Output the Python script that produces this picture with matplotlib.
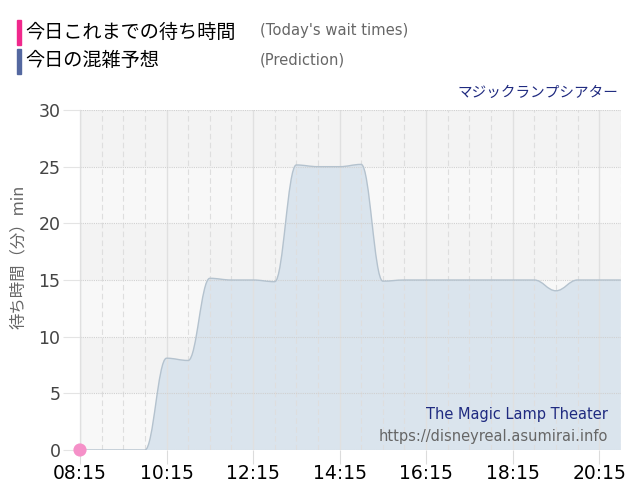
import matplotlib
matplotlib.use('Agg')
import matplotlib.pyplot as plt
from matplotlib.path import Path
from matplotlib.patches import PathPatch, Rectangle

plt.rcParams['font.family'] = ['DejaVu Sans', 'Noto Sans CJK JP']
jp = ['Noto Sans CJK JP', 'DejaVu Sans']

# prediction, every 30 min from 08:15 to 20:45
times = [8.25 + 0.5 * i for i in range(26)]
pred = [0, 0, 0, 0, 8.1, 7.9, 15.15, 15, 15, 14.85, 25.15, 25, 25, 25.2,
        14.9, 15, 15, 15, 15, 15, 15, 15, 14.05, 15, 15, 15]
# today's actual wait times so far
actual_t = [8.25]
actual_v = [0]
tick_pos = [8.25, 10.25, 12.25, 14.25, 16.25, 18.25, 20.25]
tick_lab = ['08:15', '10:15', '12:15', '14:15', '16:15', '18:15', '20:15']


def spline_path(xs, ys, smoothing=1.5):
    # highcharts style spline control points
    n = len(xs)
    left = [(xs[i], ys[i]) for i in range(n)]
    right = list(left)
    d = smoothing + 1
    for i in range(1, n - 1):
        lx, ly = xs[i - 1], ys[i - 1]
        px, py = xs[i], ys[i]
        nx, ny = xs[i + 1], ys[i + 1]
        lcx = (smoothing * px + lx) / d
        lcy = (smoothing * py + ly) / d
        rcx = (smoothing * px + nx) / d
        rcy = (smoothing * py + ny) / d
        if rcx != lcx:
            corr = (rcy - lcy) * (rcx - px) / (rcx - lcx) + py - rcy
            lcy += corr
            rcy += corr
        if lcy > max(ly, py):
            lcy = max(ly, py); rcy = 2 * py - lcy
        elif lcy < min(ly, py):
            lcy = min(ly, py); rcy = 2 * py - lcy
        if rcy > max(py, ny):
            rcy = max(py, ny); lcy = 2 * py - rcy
        elif rcy < min(py, ny):
            rcy = min(py, ny); lcy = 2 * py - rcy
        left[i] = (lcx, lcy)
        right[i] = (rcx, rcy)
    verts = [(xs[0], ys[0])]
    codes = [Path.MOVETO]
    for i in range(1, n):
        verts += [right[i - 1], left[i], (xs[i], ys[i])]
        codes += [Path.CURVE4] * 3
    return verts, codes


fig = plt.figure(figsize=(6.4, 5), dpi=100)
ax = fig.add_axes([0.125, 0.1, 0.845, 0.68])
ax.set_facecolor('#f3f3f3')
for lo in [0, 10, 20]:
    ax.axhspan(lo, lo + 5, color='#f8f8f8', zorder=0)

verts, codes = spline_path(times, pred)
fill = PathPatch(Path(verts + [(times[-1], 0), (times[0], 0), (0, 0)],
                      codes + [Path.LINETO, Path.LINETO, Path.CLOSEPOLY]),
                 facecolor='#dae4ed', edgecolor='none', zorder=1)
ax.add_patch(fill)
line = PathPatch(Path(verts, codes), facecolor='none', edgecolor='#b4c2ce', lw=1, zorder=3)
ax.add_patch(line)

ax.scatter(actual_t, actual_v, s=90, color='#f590c8', zorder=5, clip_on=False, edgecolors='none')

ax.set_xlim(8.25, 20.75)
ax.set_ylim(0, 30)
ax.set_xticks(tick_pos)
ax.set_xticklabels(tick_lab)
ax.set_xticks([8.25 + 0.5 * i for i in range(26)], minor=True)
ax.set_yticks([0, 5, 10, 15, 20, 25, 30])

ax.grid(which='minor', axis='x', color='#dedede', ls=(0, (5, 3)), lw=0.8, zorder=2)
ax.grid(which='major', axis='x', color='#e0e0e0', ls='-', lw=1, zorder=2)
ax.grid(which='major', axis='y', color='#d0d0d0', ls=(0, (1, 1)), lw=0.8, zorder=2)
ax.set_axisbelow(False)

ax.tick_params(axis='x', which='major', length=10, color='#dcdcdc', labelsize=13.5,
               labelcolor='black', pad=0)
ax.tick_params(axis='x', which='minor', length=0)
ax.tick_params(axis='y', length=12, color='#e4e4e4', labelsize=12.5, labelcolor='#444', pad=2)

for s in ['top', 'right', 'bottom']:
    ax.spines[s].set_visible(False)
ax.spines['left'].set_color('#a8b0b8')

ax.set_ylabel('待ち時間（分）min', family=jp, fontsize=11.8, color='#666')
ax.yaxis.set_label_coords(-0.098, 0.568)

# legend at top
fig.patches.append(Rectangle((17 / 640, 1 - 45 / 500), 4 / 640, 25 / 500,
                             transform=fig.transFigure, color='#f0288c'))
fig.patches.append(Rectangle((17 / 640, 1 - 74 / 500), 4 / 640, 25 / 500,
                             transform=fig.transFigure, color='#5468a0'))
fig.text(25 / 640, 1 - 32 / 500, '今日これまでの待ち時間', family=jp, fontsize=13.8,
         color='black', va='center')
fig.text(260 / 640, 1 - 31 / 500, "(Today's wait times)", fontsize=10.6, color='#666', va='center')
fig.text(25 / 640, 1 - 61 / 500, '今日の混雑予想', family=jp, fontsize=13.8,
         color='black', va='center')
fig.text(260 / 640, 1 - 60 / 500, '(Prediction)', fontsize=10.6, color='#666', va='center')

fig.text(618 / 640, 1 - 93 / 500, 'マジックランプシアター', family=jp, fontsize=10.5,
         color='#1f2a80', ha='right', va='center')

ax.text(0.976, 0.104, 'The Magic Lamp Theater', transform=ax.transAxes, ha='right',
        va='center', fontsize=10.5, color='#1f2a80', zorder=6)
ax.text(0.976, 0.04, 'https://disneyreal.asumirai.info', transform=ax.transAxes, ha='right',
        va='center', fontsize=10.5, color='#666', zorder=6)

fig.savefig('out.png', dpi=100)
